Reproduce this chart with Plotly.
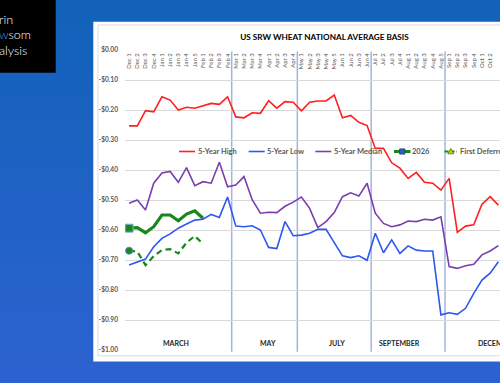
import plotly.graph_objects as go

# ---------------- data ----------------
categories = ["Dec 1", "Dec 2", "Dec 3", "Dec 4", "Jan 1", "Jan 2", "Jan 3", "Jan 4", "Jan 5",
              "Feb 1", "Feb 2", "Feb 3", "Feb 4",
              "Mar 1", "Mar 2", "Mar 3", "Mar 4", "Apr 1", "Apr 2", "Apr 3", "Apr 4",
              "May 1", "May 2", "May 3", "May 4", "May 5", "Jun 1", "Jun 2", "Jun 3", "Jun 4",
              "Jul 1", "Jul 2", "Jul 3", "Jul 4", "Aug 1", "Aug 2", "Aug 3", "Aug 4", "Aug 5",
              "Sep 1", "Sep 2", "Sep 3", "Sep 4", "Oct 1", "Oct 2", "Oct 3"]

five_year_high = [-0.253, -0.253, -0.202, -0.206, -0.156, -0.167, -0.200, -0.191, -0.194,
                  -0.186, -0.178, -0.181, -0.156,
                  -0.223, -0.226, -0.209, -0.211, -0.169, -0.194, -0.172, -0.174,
                  -0.203, -0.174, -0.170, -0.170, -0.150, -0.226, -0.218, -0.241, -0.252,
                  -0.328, -0.328, -0.376, -0.394, -0.428, -0.408, -0.441, -0.444, -0.467,
                  -0.428, -0.608, -0.587, -0.583, -0.514, -0.489, -0.517]

five_year_low = [-0.717, -0.706, -0.697, -0.656, -0.628, -0.613, -0.594, -0.580, -0.567,
                 -0.564, -0.548, -0.558, -0.490,
                 -0.587, -0.589, -0.586, -0.600, -0.658, -0.662, -0.572, -0.619,
                 -0.617, -0.611, -0.598, -0.598, -0.642, -0.686, -0.692, -0.686, -0.701,
                 -0.611, -0.676, -0.633, -0.678, -0.653, -0.667, -0.670, -0.670, -0.883,
                 -0.876, -0.881, -0.861, -0.811, -0.767, -0.744, -0.706]

five_year_median = [-0.511, -0.500, -0.533, -0.444, -0.410, -0.405, -0.441, -0.392, -0.452,
                    -0.439, -0.444, -0.374, -0.456,
                    -0.450, -0.422, -0.499, -0.544, -0.541, -0.542, -0.521, -0.507,
                    -0.490, -0.528, -0.592, -0.572, -0.542, -0.489, -0.476, -0.487, -0.444,
                    -0.544, -0.578, -0.589, -0.583, -0.570, -0.572, -0.564, -0.567, -0.556,
                    -0.722, -0.728, -0.719, -0.714, -0.683, -0.670, -0.652]

basis_2026 = [-0.594, -0.592, -0.609, -0.589, -0.550, -0.550, -0.569, -0.547, -0.536, -0.561]

first_deferred = [-0.669, -0.672, -0.717, -0.687, -0.667, -0.664, -0.678, -0.642, -0.620, -0.646]

y_tick_values = [0.0, -0.1, -0.2, -0.3, -0.4, -0.5, -0.6, -0.7, -0.8, -0.9, -1.0]
y_tick_labels = ["$0.00", "-$0.10", "-$0.20", "-$0.30", "-$0.40", "-$0.50",
                 "-$0.60", "-$0.70", "-$0.80", "-$0.90", "-$1.00"]

contract_months = ["MARCH", "MAY", "JULY", "SEPTEMBER", "DECEMBER"]
contract_first_week = [0, 13, 21, 30, 39]

series_names = ["5-Year High", "5-Year Low", "5-Year Median", "2026", "First Deferred"]

# ---------------- layout constants ----------------
W, H = 500, 383
ML, MR, MT, MB = 125, 0, 50, 33
PW, PH = W - ML - MR, H - MT - MB
label_pos = [5.7, 16.9, 25.3, 32.95, 44.8]
legend_line_x = [179.0, 248.7, 315.3, 394.0, 444.5]   # pixel start of legend keys
legend_line_len = [16, 16, 16, 16.5, 12.5]
legend_text_x = [197.7, 267.0, 334.0, 412.3, 460.0]
legend_y = 151.5

RED = "#ff1f1f"
BLUE = "#2e56f2"
PURPLE = "#7a3eae"
GREEN = "#17891b"
GREY_TXT = "#595959"


def pxx(px):
    return (px - ML) / PW


def pxy(py):
    return (MT + PH - py) / PH


x_idx = list(range(len(categories)))

fig = go.Figure()

fig.add_trace(go.Scatter(x=x_idx, y=five_year_high, mode="lines", name=series_names[0],
                         line=dict(color=RED, width=1.6)))
fig.add_trace(go.Scatter(x=x_idx, y=five_year_low, mode="lines", name=series_names[1],
                         line=dict(color=BLUE, width=1.6)))
fig.add_trace(go.Scatter(x=x_idx, y=five_year_median, mode="lines", name=series_names[2],
                         line=dict(color=PURPLE, width=1.6)))
fig.add_trace(go.Scatter(x=x_idx[:len(first_deferred)], y=first_deferred, mode="lines",
                         name=series_names[4],
                         line=dict(color=GREEN, width=2.2, dash="6px,4px")))
fig.add_trace(go.Scatter(x=x_idx[:1], y=first_deferred[:1], mode="markers", name=series_names[4],
                         marker=dict(symbol="circle", size=7, color=GREEN,
                                     line=dict(color="#4f7fd6", width=1))))
fig.add_trace(go.Scatter(x=x_idx[:len(basis_2026)], y=basis_2026, mode="lines", name=series_names[3],
                         line=dict(color=GREEN, width=3.2)))
fig.add_trace(go.Scatter(x=x_idx[:1], y=basis_2026[:1], mode="markers", name=series_names[3],
                         marker=dict(symbol="square", size=8, color=GREEN,
                                     line=dict(color="#8eaee6", width=1))))

shapes = []
# background gradient
top_rgb = (18, 98, 185)
bot_rgb = (44, 98, 208)
nb = 16
for i in range(nb):
    t = i / (nb - 1)
    c = tuple(int(round(top_rgb[k] + (bot_rgb[k] - top_rgb[k]) * t)) for k in range(3))
    shapes.append(dict(type="rect", xref="paper", yref="paper", layer="below",
                       x0=pxx(-5), x1=pxx(W + 5), y0=pxy(H * i / nb - 1), y1=pxy(H * (i + 1) / nb + 1),
                       fillcolor="rgb(%d,%d,%d)" % c, line=dict(width=0)))
# logo box
shapes.append(dict(type="rect", xref="paper", yref="paper", layer="below",
                   x0=pxx(-5), x1=pxx(55.7), y0=pxy(-5), y1=pxy(72.7),
                   fillcolor="#000000", line=dict(width=0)))
# white chart panel
shapes.append(dict(type="rect", xref="paper", yref="paper", layer="below",
                   x0=pxx(93.3), x1=pxx(W + 20), y0=pxy(361.5), y1=pxy(21.7),
                   fillcolor="#ffffff", line=dict(width=0)))
shapes.append(dict(type="rect", xref="paper", yref="paper", layer="below",
                   x0=pxx(98.0), x1=pxx(W + 20), y0=pxy(355.8), y1=pxy(25.0),
                   fillcolor="rgba(0,0,0,0)", line=dict(color="#dcdcdc", width=1)))
# contract period separators
for s in contract_first_week[1:]:
    shapes.append(dict(type="line", xref="x", yref="paper", layer="between",
                       x0=s - 0.5, x1=s - 0.5, y0=-0.006, y1=0.995,
                       line=dict(color="#9fb6e4", width=1.5)))

# legend keys (drawn by hand so they sit in one row like the original)
key_styles = [dict(color=RED, width=1.6), dict(color=BLUE, width=1.6), dict(color=PURPLE, width=1.6),
              dict(color=GREEN, width=3), dict(color=GREEN, width=2, dash="4px,2px")]
ly = pxy(legend_y)
for lx, ll, st in zip(legend_line_x, legend_line_len, key_styles):
    shapes.append(dict(type="line", xref="paper", yref="paper", layer="above",
                       x0=pxx(lx), x1=pxx(lx + ll), y0=ly, y1=ly, line=st))
# 2026 key marker (square)
cx = legend_line_x[3] + legend_line_len[3] / 2
shapes.append(dict(type="rect", xref="paper", yref="paper", layer="above",
                   x0=pxx(cx - 2.6), x1=pxx(cx + 2.6), y0=pxy(legend_y + 2.6), y1=pxy(legend_y - 2.6),
                   fillcolor="#2f5fc2", line=dict(color="#1d3f7a", width=0.8)))
# First Deferred key marker (triangle)
cx = legend_line_x[4] + legend_line_len[4] / 2
shapes.append(dict(type="path", xref="paper", yref="paper", layer="above",
                   path="M %f,%f L %f,%f L %f,%f Z" % (pxx(cx - 3), pxy(legend_y + 2.3),
                                                     pxx(cx + 3), pxy(legend_y + 2.3),
                                                     pxx(cx), pxy(legend_y - 3)),
                   fillcolor="#f2c200", line=dict(color=GREEN, width=0.8)))

annotations = []
for name, tx in zip(series_names, legend_text_x):
    annotations.append(dict(x=pxx(tx - 2), y=ly, xref="paper", yref="paper", text=name,
                            showarrow=False, xanchor="left", yanchor="middle",
                            font=dict(family="Lato", size=7.5, color=GREY_TXT, weight="bold")))

for name, pos in zip(contract_months, label_pos):
    annotations.append(dict(x=pos, y=-0.978, xref="x", yref="y", text=name, showarrow=False,
                            xanchor="center", yanchor="middle",
                            font=dict(family="Lato", size=7, color="#262626", weight="bold")))

logo_lines = ["rin", "<span style='color:#3ea6ef'>w</span>som", "alysis"]
for j, t in enumerate(logo_lines):
    annotations.append(dict(x=pxx(-2.5), y=pxy(20 + 15 * j), xref="paper", yref="paper", text=t,
                            showarrow=False, xanchor="left", yanchor="middle",
                            font=dict(family="Lato", size=12.5, color="#ffffff", weight=300)))

fig.update_layout(
    width=W, height=H,
    margin=dict(l=ML, r=MR, t=MT, b=MB, pad=0),
    paper_bgcolor="#1f63c8",
    plot_bgcolor="#ffffff",
    showlegend=False,
    title=dict(text="US SRW WHEAT NATIONAL AVERAGE BASIS", x=pxx(324.5), xref="paper",
               xanchor="center", y=1 - 37.5 / H, yref="container", yanchor="middle",
               font=dict(family="Lato", size=8.2, color="#000000", weight="bold")),
    xaxis=dict(range=[-0.5, -0.5 + PW / 8.206],
               anchor="free", position=1.0, side="bottom", tickangle=-90,
               tickmode="array", tickvals=x_idx, ticktext=categories,
               tickfont=dict(family="Lato", size=6, color=GREY_TXT),
               showgrid=False, zeroline=False, showline=False, ticks="", ticklabelstandoff=1,
               fixedrange=True),
    yaxis=dict(range=[-1.0, 0.0], tickmode="array", tickvals=y_tick_values, ticktext=y_tick_labels,
               tickfont=dict(family="Lato", size=6.6, color=GREY_TXT, weight="bold"),
               showgrid=True, gridcolor="#d9d9d9", gridwidth=1, zeroline=False, showline=False,
               ticks="", ticklabelstandoff=6, fixedrange=True),
    shapes=shapes,
    annotations=annotations,
)

fig.write_html("out.html", config={"displayModeBar": False},
               post_script="document.body.style.margin='0';document.body.style.overflow='hidden';")
